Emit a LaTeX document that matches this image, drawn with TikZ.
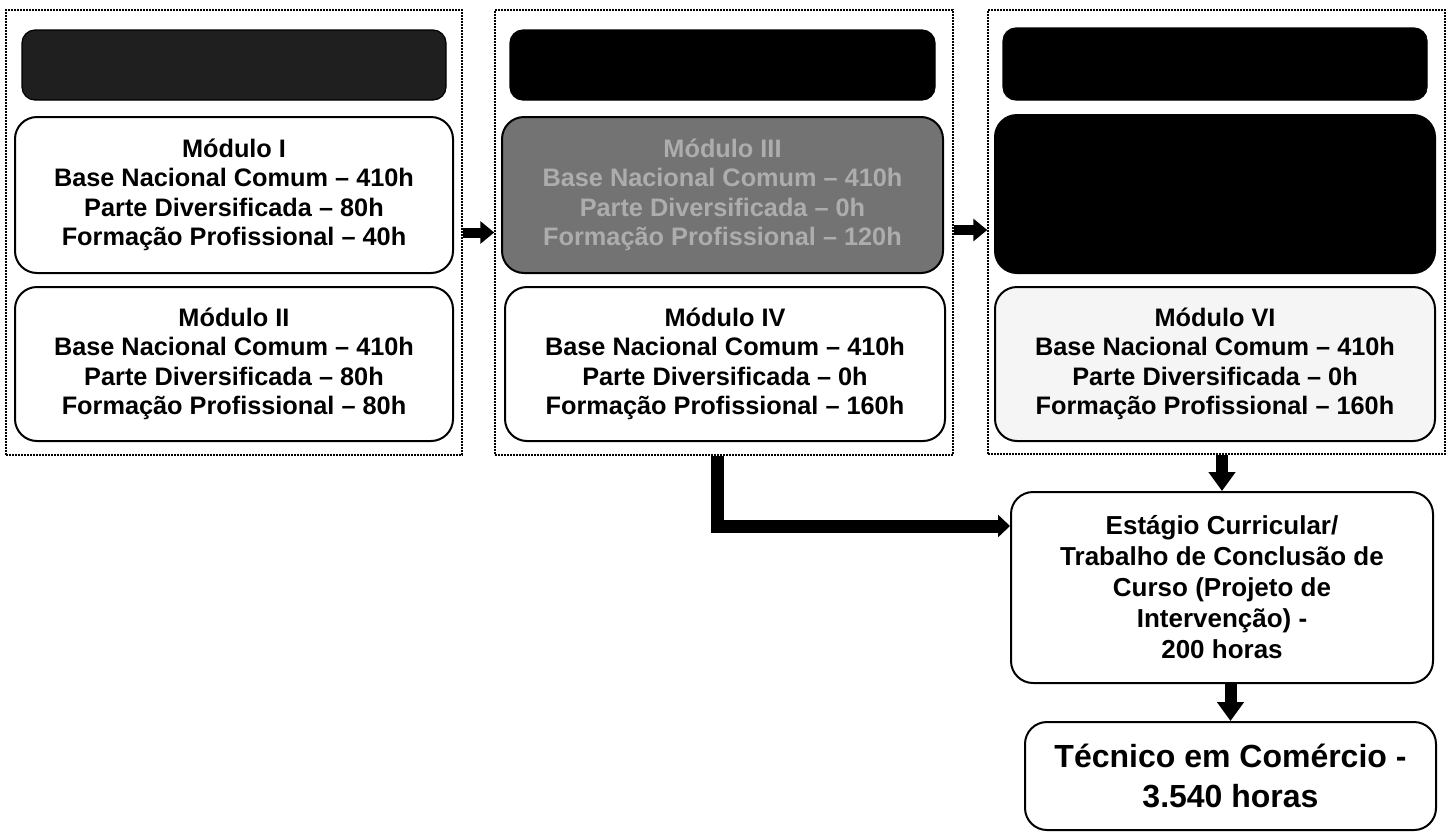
\documentclass[tikz,border=0pt]{standalone}
\usepackage{fontspec}
\setmainfont{Liberation Sans}
\usetikzlibrary{arrows.meta,calc}
\begin{document}
\begin{tikzpicture}[x=1pt,y=-1pt,
  frame/.style={draw, line width=1.5pt, dash pattern=on 1.6pt off 1.4pt, rectangle, inner sep=0pt},
  hdr/.style={draw, line width=1.2pt, rounded corners=13pt, fill=black, inner sep=0pt},
  modbox/.style={draw, line width=2pt, rounded corners=22pt, align=center, inner sep=0pt,
     font=\bfseries\fontsize{25.3}{29.5}\selectfont},
  finbox/.style={draw, line width=2pt, rounded corners=22pt, align=center, inner sep=0pt,
     font=\bfseries\fontsize{26}{31}\selectfont},
  harr/.style={line width=10pt, -{Triangle[length=14pt,width=22pt]}},
  varr/.style={line width=12pt, -{Triangle[length=19pt,width=26pt]}},
  larr/.style={line width=13pt, -{Triangle[length=12pt,width=22pt]}}
]
\useasboundingbox (0,0) rectangle (1450,833);
% frames
\node[frame, minimum width=456pt, minimum height=445pt] (frame1) at (234,232.5) {};
\node[frame, minimum width=458pt, minimum height=445pt] (frame2) at (724,232.5) {};
\node[frame, minimum width=457pt, minimum height=444pt] (frame3) at (1216.5,232) {};
% headers
\node[hdr, fill=black!88, minimum width=424pt, minimum height=70pt] (h1) at (234,65) {};
\node[hdr, minimum width=425pt, minimum height=70pt] (h2) at (722.5,65) {};
\node[hdr, minimum width=424pt, minimum height=72pt] (h3) at (1215,64) {};
% modules
\node[modbox, minimum width=438pt, minimum height=156pt] (m1) at (234,195)
  {Módulo I\\Base Nacional Comum – 410h\\Parte Diversificada – 80h\\Formação Profissional – 40h};
\node[modbox, minimum width=438pt, minimum height=154pt] (m2) at (234,364)
  {Módulo II\\Base Nacional Comum – 410h\\Parte Diversificada – 80h\\Formação Profissional – 80h};
\node[modbox, fill=black!55, text=black!32, minimum width=441pt, minimum height=156pt] (m3) at (722.5,195)
  {Módulo III\\Base Nacional Comum – 410h\\Parte Diversificada – 0h\\Formação Profissional – 120h};
\node[modbox, minimum width=440pt, minimum height=154pt] (m4) at (725,364)
  {Módulo IV\\Base Nacional Comum – 410h\\Parte Diversificada – 0h\\Formação Profissional – 160h};
\node[modbox, fill=black, minimum width=440pt, minimum height=158pt] (m5) at (1215,194) {};
\node[modbox, fill=black!4, minimum width=440pt, minimum height=154pt] (m6) at (1215,364)
  {Módulo VI\\Base Nacional Comum – 410h\\Parte Diversificada – 0h\\Formação Profissional – 160h};
% final boxes
\node[finbox, minimum width=422pt, minimum height=191pt] (est) at (1222,587.5)
  {Estágio Curricular/\\Trabalho de Conclusão de\\Curso (Projeto de\\Intervenção) -\\200 horas};
\node[finbox, font=\bfseries\fontsize{32}{40}\selectfont, minimum width=411pt, minimum height=108pt] (tec) at (1230.5,776)
  {Técnico em Comércio -\\3.540 horas};
% arrows
\draw[harr] (frame1.east) -- (frame2.west);
\draw[harr] (frame2.east |- 0,230) -- (frame3.west |- 0,230);
\draw[varr] (est.north |- frame3.south) -- (est.north);
\draw[varr] (est.south -| tec.north) -- (tec.north);
\coordinate (lstart) at ($(frame2.south)+(-7,0)$);
\coordinate (lend) at ($(est.north west)+(0,35)$);
\draw[larr] (lstart) |- (lend);
\end{tikzpicture}
\end{document}
